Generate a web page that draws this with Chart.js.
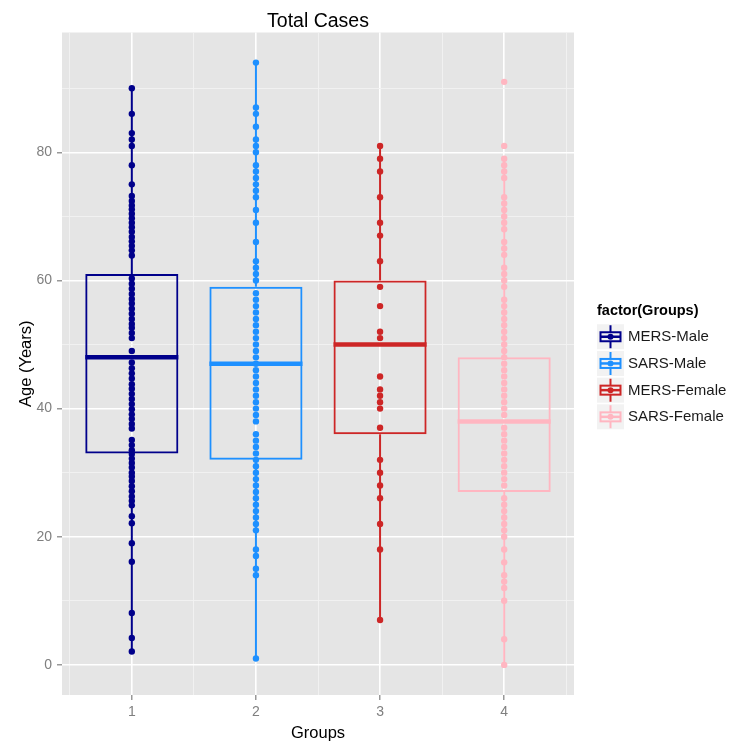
<!DOCTYPE html>
<html>
<head>
<meta charset="utf-8">
<script src="https://cdn.jsdelivr.net/npm/chart.js@4.4.0/dist/chart.umd.min.js"></script>
<style>
html,body{margin:0;padding:0;background:#fff;}
#wrap{width:730px;height:747px;position:relative;}
</style>
</head>
<body>
<div id="wrap"><canvas id="c" width="730" height="747"></canvas></div>
<script>
// ---------- data ----------
const groupNames = ['MERS-Male', 'SARS-Male', 'MERS-Female', 'SARS-Female'];
const groupX = [1, 2, 3, 4];
const groupColors = ['#00008B', '#1E90FF', '#CD2626', '#FFB6C1'];

const q1Values = [33, 32, 36, 27];
const medianValues = [48, 47, 50, 38];
const q3Values = [61, 59, 60, 48];
const whiskerLow = [2, 1, 7, 0];
const whiskerHigh = [90, 94, 81, 79];

const mersMaleAges = [90, 86, 83, 82, 81, 78, 75, 73.2, 72.4, 71.7, 71.1, 70.4, 69.7, 69, 68.3, 67.6, 66.8,
  66.1, 65.4, 64.7, 63.9, 60.3, 59.5, 58.7, 57.9, 57.1, 56.4, 55.6, 54.8, 54, 53.2, 52.6, 51.8, 51, 49,
  47.2, 46.3, 45.5, 44.7, 43.8, 43.1, 42.3, 41.5, 40.7, 39.9, 39.1, 38.4, 37.6, 36.9, 35.1, 34.3, 33.5,
  32.9, 32.2, 31.5, 30.8, 30, 29.4, 28.7, 27.9, 27.1, 26.3, 25.6, 24.9, 23.2, 22.1, 19, 16.1, 8.1, 4.2, 2.1];
const sarsMaleAges = [94, 87, 86, 84, 82, 81, 80, 78, 77, 76, 75, 74, 73, 71, 69, 66, 63, 62, 61, 60, 58, 57,
  56, 55, 54, 53, 52, 51, 50, 49, 48, 47, 46, 45, 44, 43, 42, 41, 40, 39, 38, 36, 35, 34, 33, 32, 31, 30,
  29, 28, 27, 26, 25, 24, 23, 22, 21, 18, 17, 15, 14, 1];
const mersFemaleAges = [81, 79, 77, 73, 69, 67, 63, 59, 56, 52, 51, 45, 43, 42, 41, 40, 37, 32, 30, 28, 26,
  22, 18, 7];
const sarsFemaleAges = [91, 81, 79, 78, 77, 76, 73, 72, 71, 70, 69, 68, 66, 65, 64, 62, 61, 60, 59, 57, 56,
  55, 54, 53, 52, 51, 50, 49, 48, 47, 46, 45, 44, 43, 42, 41, 40, 39, 37, 36, 35, 34, 33, 32, 31, 30, 29,
  28, 26, 25, 24, 23, 22, 21, 20, 18, 16, 14, 13, 12, 10, 4, 0];
const groupAges = [mersMaleAges, sarsMaleAges, mersFemaleAges, sarsFemaleAges];

const yMajorTicks = [0, 20, 40, 60, 80];
const yMinorTicks = [10, 30, 50, 70, 90];
const xMajorTicks = [1, 2, 3, 4];
const xMinorTicks = [0.5, 1.5, 2.5, 3.5, 4.5];

const chartTitle = 'Total Cases';
const xTitle = 'Groups';
const yTitle = 'Age (Years)';
const legendTitle = 'factor(Groups)';

// ---------- styling ----------
const FONT = "'Liberation Sans', Arial, sans-serif";
const PANEL_BG = '#E5E5E5';
const KEY_BG = '#F2F2F2';
const AXIS_GREY = '#7F7F7F';

// ---------- datasets ----------
const datasets = [];
groupNames.forEach((name, i) => {
  datasets.push({
    type: 'scatter',
    label: name,
    data: groupAges[i].map(v => ({x: groupX[i], y: v})),
    backgroundColor: groupColors[i],
    borderWidth: 0,
    pointRadius: 3.2,
    pointHoverRadius: 3.2,
    order: 0
  });
  datasets.push({
    type: 'bar',
    label: name + ' box',
    groupIndex: i,
    data: [{x: groupX[i], y: [q1Values[i], q3Values[i]]}],
    backgroundColor: 'rgba(0,0,0,0)',
    borderColor: groupColors[i],
    borderWidth: 2,
    borderSkipped: false,
    grouped: false,
    // the bar ruler uses the 0.5-unit tick spacing; 0.5 * 1.5 = 0.75 units wide boxes
    categoryPercentage: 1,
    barPercentage: 1.5,
    order: 2
  });
  datasets.push({
    type: 'scatter',
    label: name + ' whisker',
    showLine: true,
    spanGaps: false,
    data: [
      {x: groupX[i], y: q3Values[i]}, {x: groupX[i], y: whiskerHigh[i]},
      {x: groupX[i], y: null},
      {x: groupX[i], y: q1Values[i]}, {x: groupX[i], y: whiskerLow[i]}
    ],
    borderColor: groupColors[i],
    borderWidth: 2,
    pointRadius: 0,
    order: 3
  });
});

// ---------- plugins ----------
const panelPlugin = {
  id: 'panelBg',
  beforeDraw(chart) {
    const {ctx, chartArea: a} = chart;
    ctx.save();
    ctx.fillStyle = '#FFFFFF';
    ctx.fillRect(0, 0, chart.width, chart.height);
    ctx.fillStyle = PANEL_BG;
    ctx.fillRect(a.left, a.top, a.right - a.left, a.bottom - a.top);
    ctx.restore();
  }
};

const medianPlugin = {
  id: 'medianLines',
  afterDatasetDraw(chart, args) {
    const ds = chart.data.datasets[args.index];
    if (ds.type !== 'bar') return;
    const el = args.meta.data[0];
    if (!el) return;
    const {x, width} = el.getProps(['x', 'width'], true);
    const y = chart.scales.y.getPixelForValue(medianValues[ds.groupIndex]);
    const ctx = chart.ctx;
    ctx.save();
    ctx.strokeStyle = ds.borderColor;
    ctx.lineWidth = 4.5;
    ctx.beginPath();
    ctx.moveTo(x - width / 2, y);
    ctx.lineTo(x + width / 2, y);
    ctx.stroke();
    ctx.restore();
  }
};

const legendPlugin = {
  id: 'ggLegend',
  afterDraw(chart) {
    const {ctx, chartArea: a} = chart;
    const mid = (a.top + a.bottom) / 2;
    const x0 = a.right + 23;
    ctx.save();
    ctx.textBaseline = 'middle';
    ctx.textAlign = 'left';
    ctx.fillStyle = '#000000';
    ctx.font = 'bold 14.5px ' + FONT;
    ctx.fillText(legendTitle, x0, mid - 53);
    const keyW = 27, keyH = 25, step = 26.7;
    groupNames.forEach((name, i) => {
      const cy = mid - 27 + i * step;
      const col = groupColors[i];
      ctx.fillStyle = KEY_BG;
      ctx.fillRect(x0, cy - keyH / 2, keyW, keyH);
      const cx = x0 + keyW / 2;
      ctx.strokeStyle = col;
      ctx.lineWidth = 2;
      ctx.beginPath();
      ctx.moveTo(cx, cy - keyH / 2 + 1); ctx.lineTo(cx, cy - 4.5);
      ctx.moveTo(cx, cy + 4.5); ctx.lineTo(cx, cy + keyH / 2 - 1);
      ctx.stroke();
      ctx.strokeRect(x0 + 3.5, cy - 4.5, keyW - 7, 9);
      ctx.lineWidth = 2.5;
      ctx.beginPath();
      ctx.moveTo(x0 + 3.5, cy); ctx.lineTo(x0 + keyW - 3.5, cy);
      ctx.stroke();
      ctx.fillStyle = col;
      ctx.beginPath();
      ctx.arc(cx, cy, 3, 0, Math.PI * 2);
      ctx.fill();
      ctx.fillStyle = '#1A1A1A';
      ctx.font = '15px ' + FONT;
      ctx.fillText(name, x0 + keyW + 4, cy + 0.5);
    });
    ctx.restore();
  }
};

function isMajor(list, v) { return list.some(t => Math.abs(t - v) < 1e-9); }
function tickVal(c) { return c && c.tick ? c.tick.value : null; }

new Chart(document.getElementById('c'), {
  type: 'scatter',
  data: {datasets},
  plugins: [panelPlugin, medianPlugin, legendPlugin],
  options: {
    responsive: false,
    devicePixelRatio: 1,
    animation: false,
    events: [],
    layout: {padding: {left: 0, right: 156, top: 0, bottom: 0}},
    plugins: {
      legend: {display: false},
      tooltip: {enabled: false},
      title: {
        display: true,
        text: chartTitle,
        fullSize: false,
        color: '#000000',
        font: {family: FONT, size: 19.5, weight: 'normal', lineHeight: 1},
        padding: {top: 12, bottom: 1}
      }
    },
    scales: {
      x: {
        type: 'linear',
        offset: false,
        min: 0.4375,
        max: 4.5625,
        afterBuildTicks: s => {
          s.ticks = xMajorTicks.concat(xMinorTicks).sort((a, b) => a - b).map(v => ({value: v}));
        },
        afterFit: s => { s.height = 52; },
        border: {display: false},
        grid: {
          offset: false,
          color: c => isMajor(xMajorTicks, tickVal(c)) ? '#FFFFFF' : '#F2F2F2',
          lineWidth: c => isMajor(xMajorTicks, tickVal(c)) ? 1.6 : 0.9,
          tickColor: c => isMajor(xMajorTicks, tickVal(c)) ? AXIS_GREY : 'rgba(0,0,0,0)',
          tickWidth: 1.2,
          tickLength: 5
        },
        ticks: {
          autoSkip: false,
          maxRotation: 0,
          padding: 4,
          color: AXIS_GREY,
          font: {family: FONT, size: 14},
          callback: v => isMajor(xMajorTicks, v) ? String(v) : ''
        },
        title: {
          display: true,
          text: xTitle,
          color: '#000000',
          font: {family: FONT, size: 16.5},
          padding: {top: 0, bottom: 4}
        }
      },
      y: {
        type: 'linear',
        min: -4.7,
        max: 98.7,
        afterBuildTicks: s => {
          s.ticks = yMajorTicks.concat(yMinorTicks).sort((a, b) => a - b).map(v => ({value: v}));
        },
        afterFit: s => { s.width = 62; },
        border: {display: false},
        grid: {
          color: c => isMajor(yMajorTicks, tickVal(c)) ? '#FFFFFF' : '#F2F2F2',
          lineWidth: c => isMajor(yMajorTicks, tickVal(c)) ? 1.6 : 0.9,
          tickColor: c => isMajor(yMajorTicks, tickVal(c)) ? AXIS_GREY : 'rgba(0,0,0,0)',
          tickWidth: 1.2,
          tickLength: 5
        },
        ticks: {
          autoSkip: false,
          padding: 5,
          color: AXIS_GREY,
          font: {family: FONT, size: 14},
          callback: v => isMajor(yMajorTicks, v) ? String(v) : ''
        },
        title: {
          display: true,
          text: yTitle,
          color: '#000000',
          font: {family: FONT, size: 16.5},
          padding: {top: 17, bottom: 0}
        }
      }
    }
  }
});
</script>
</body>
</html>
